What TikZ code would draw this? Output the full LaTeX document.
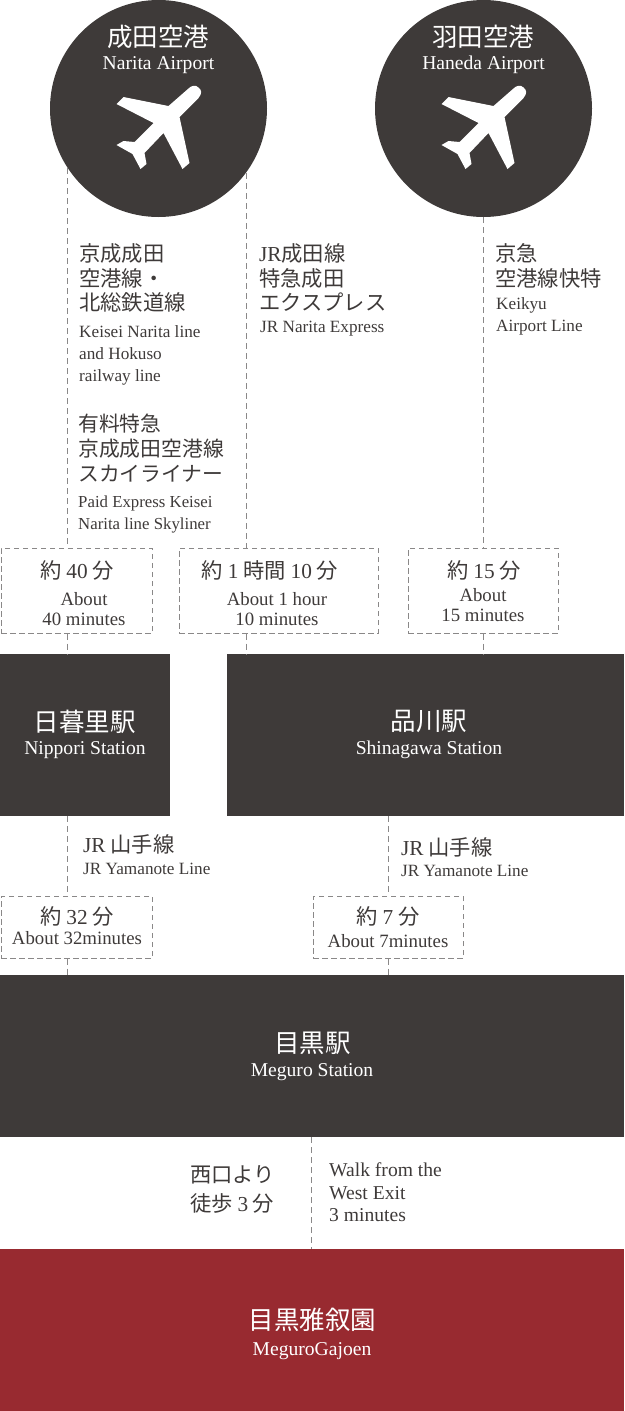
\documentclass[tikz,border=0pt]{standalone}
\usepackage{fontspec}
\setmainfont{Liberation Serif}
\newfontfamily\cjk{Noto Sans CJK JP}
\definecolor{darkbox}{HTML}{3E3A39}
\definecolor{gajoen}{HTML}{982A30}
\definecolor{dashgray}{HTML}{8A8888}
\newcommand{\jpL}{\cjk\fontsize{25.5}{28}\selectfont}
\newcommand{\jpM}{\cjk\fontsize{21.3}{24.5}\selectfont}
\newcommand{\jpS}{\cjk\fontsize{20.8}{25}\selectfont}
\newcommand{\enL}{\fontsize{19.6}{22.5}\selectfont}
\newcommand{\enM}{\fontsize{17.2}{22}\selectfont}
\newcommand{\enS}{\fontsize{16.8}{22}\selectfont}
\newcommand{\enT}{\fontsize{18.8}{20}\selectfont}
\newcommand{\num}[1]{{\fontspec{Liberation Serif}#1}}
\tikzset{
  airport/.style={circle, fill=darkbox, text=white, minimum size=217pt, inner sep=0pt},
  station/.style={fill=darkbox, text=white, inner sep=0pt, align=center},
  timebox/.style={draw=dashgray, dash pattern=on 5.5pt off 3.5pt, line width=1pt, text=darkbox, inner sep=0pt, align=center},
  routetext/.style={text=darkbox, inner sep=0pt, align=left, anchor=north west},
  timetext/.style={text=darkbox, inner sep=0pt, align=center},
  dashline/.style={draw=dashgray, dash pattern=on 6pt off 4pt, line width=1pt},
  stationname/.style={text=white, inner sep=0pt, align=center}
}
\newcommand{\planeicon}[1]{%
  \fill[white, shift={(#1)}] (10,-2.5) -- (-35,-11.5) -- (-42,-4.5) -- (-5,14.5) -- (-24,33.5)
    -- (-35,32.5) -- (-42,36.5) -- (-26,45.5) -- (-18,60.5) -- (-12,55.5) -- (-14,44.5)
    -- (5,24.5) -- (24,60.5) -- (31,54.5) -- (21,8.5) -- (40,-10.5)
    .. controls (44,-15) and (43,-19) .. (40,-21)
    .. controls (37,-24) and (33,-23) .. (30,-20) -- cycle;
}
\begin{document}
\begin{tikzpicture}[x=1pt, y=-1pt]
  \useasboundingbox (0,0) rectangle (624,1411);

  % Airports
  \node[airport] (narita) at (158.5,108.5) {};
  \node[airport] (haneda) at (483.5,108.5) {};
  \planeicon{158.5,108.5}
  \planeicon{483.5,108.5}
  \node[stationname, font=\jpL] (naritaJa) at (158,37) {成田空港};
  \node[stationname, font=\enL] (naritaEn) at (158.5,65) {Narita Airport};
  \node[stationname, font=\jpL] (hanedaJa) at (483,37) {羽田空港};
  \node[stationname, font=\enL] (hanedaEn) at (483.5,64.5) {Haneda Airport};

  % Time boxes
  \node[timebox, minimum width=151pt, minimum height=85pt] (box40) at (76.5,590.5) {};
  \node[timebox, minimum width=199pt, minimum height=85pt] (box70) at (278.5,590.5) {};
  \node[timebox, minimum width=150pt, minimum height=85pt] (box15) at (483,590.5) {};
  \node[timebox, minimum width=151pt, minimum height=62pt] (box32) at (76.5,927) {};
  \node[timebox, minimum width=150pt, minimum height=62pt] (box7) at (388,927) {};

  % Stations
  \node[station, minimum width=170pt, minimum height=162pt] (nippori) at (85,735) {};
  \node[station, minimum width=397pt, minimum height=162pt] (shinagawa) at (425.5,735) {};
  \node[station, minimum width=624pt, minimum height=162pt] (meguro) at (312,1056) {};
  \node[station, fill=gajoen, minimum width=624pt, minimum height=162pt] (venue) at (312,1330) {};

  \node[stationname, font=\jpL] (nipporiJa) at (85,722) {日暮里駅};
  \node[stationname, font=\enL] (nipporiEn) at (85,750.5) {Nippori Station};
  \node[stationname, font=\jpL] (shinagawaJa) at (429,721) {品川駅};
  \node[stationname, font=\enL] (shinagawaEn) at (429,750) {Shinagawa Station};
  \node[stationname, font=\jpL] (meguroJa) at (312.5,1043) {目黒駅};
  \node[stationname, font=\enL] (meguroEn) at (312,1072.5) {Meguro Station};
  \node[stationname, font=\jpL] (venueJa) at (312.5,1320) {目黒雅叙園};
  \node[stationname, font=\enL] (venueEn) at (312,1351) {MeguroGajoen};

  % Free ends on the airport circles
  \coordinate (naritaL) at (67,168);
  \coordinate (naritaR) at (246,173);
  \coordinate (meguroGate) at (311,1137);

  % Connectors
  \draw[dashline] (naritaL) -- (naritaL |- box40.north);
  \draw[dashline] (naritaR) -- (naritaR |- box70.north);
  \draw[dashline] (haneda.south) -- (haneda.south |- box15.north);
  \draw[dashline] (naritaL |- box40.south) -- (naritaL |- nippori.north);
  \draw[dashline] (naritaR |- box70.south) -- (naritaR |- shinagawa.north);
  \draw[dashline] (haneda.south |- box15.south) -- (haneda.south |- shinagawa.north);
  \draw[dashline] (naritaL |- nippori.south) -- (naritaL |- box32.north);
  \draw[dashline] (naritaL |- box32.south) -- (naritaL |- meguro.north);
  \draw[dashline] (box7.north |- shinagawa.south) -- (box7.north);
  \draw[dashline] (box7.south) -- (box7.south |- meguro.north);
  \draw[dashline] (meguroGate) -- (meguroGate |- venue.north);

  % Route texts
  \node[routetext, font=\jpM] (keiseiJa) at (79,243.5) {京成成田\\空港線・\\北総鉄道線};
  \node[routetext, font=\enM] (keiseiEn) at (79,325.5) {Keisei Narita line\\and Hokuso\\railway line};
  \node[routetext, font=\jpS] (skyJa) at (78,413.5) {有料特急\\京成成田空港線\\スカイライナー};
  \node[routetext, font=\enS] (skyEn) at (78,496) {Paid Express Keisei\\Narita line Skyliner};
  \node[routetext, font=\jpM] (nexJa) at (259,243.5) {\num{JR}成田線\\特急成田\\エクスプレス};
  \node[routetext, font=\enM] (nexEn) at (260,321) {JR Narita Express};
  \node[routetext, font=\jpM] (keikyuJa) at (495,243.5) {京急\\空港線快特};
  \node[routetext, font=\enM] (keikyuEn) at (496,297) {Keikyu\\Airport Line};
  \node[routetext, font=\jpM] (yamaJaA) at (83,834) {\num{JR} 山手線};
  \node[routetext, font=\enM] (yamaEnA) at (83,863) {JR Yamanote Line};
  \node[routetext, font=\jpM] (yamaJaB) at (401,837) {\num{JR} 山手線};
  \node[routetext, font=\enM] (yamaEnB) at (401,865) {JR Yamanote Line};

  % Times
  \node[timetext, font=\jpM] (t40Ja) at (77,570) {約 \num{40} 分};
  \node[timetext, font=\enT] (t40En) at (84,609) {About\\40 minutes};
  \node[timetext, font=\jpM] (t70Ja) at (270,570) {約 \num{1} 時間 \num{10} 分};
  \node[timetext, font=\enT] (t70En) at (277,609) {About 1 hour\\10 minutes};
  \node[timetext, font=\jpM] (t15Ja) at (484,570) {約 \num{15} 分};
  \node[timetext, font=\enT] (t15En) at (483,605) {About\\15 minutes};
  \node[timetext, font=\jpM] (t32Ja) at (77,916) {約 \num{32} 分};
  \node[timetext, font=\enT] (t32En) at (77,938) {About 32minutes};
  \node[timetext, font=\jpM] (t7Ja) at (388,916) {約 \num{7} 分};
  \node[timetext, font=\enT] (t7En) at (388,941) {About 7minutes};

  % Walk
  \node[routetext, font=\jpM] (walkJa) at (190,1165) {西口より\\[4.5pt]徒歩 \num{3} 分};
  \node[routetext, font=\enL] (walkEn) at (329,1162.5) {Walk from the\\West Exit\\3 minutes};
\end{tikzpicture}
\end{document}
